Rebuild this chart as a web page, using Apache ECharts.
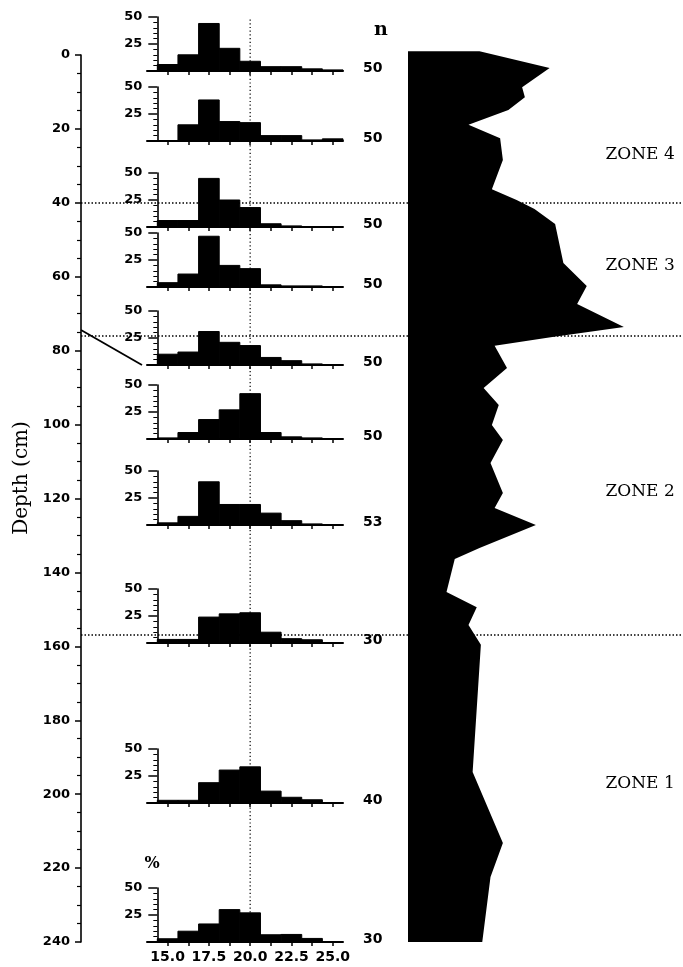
<!DOCTYPE html>
<html><head><meta charset="utf-8">
<script src="https://cdn.jsdelivr.net/npm/echarts@6/dist/echarts.min.js"></script>
<style>html,body{margin:0;padding:0;background:#fff}#c{width:683px;height:967px}</style>
</head><body><div id="c"></div>
<script>
// ---------- DATA ----------
const binCenters = [15.0, 16.25, 17.5, 18.75, 20.0, 21.25, 22.5, 23.75, 25.0];
const xTickLabels = ['15.0', '17.5', '20.0', '22.5', '25.0'];
const hist1  = [6, 15, 44, 21, 9, 4, 4, 2, 1];
const hist2  = [0, 15, 38, 18, 17, 5, 5, 1, 2];
const hist3  = [6, 6, 45, 25, 18, 3, 1, 0, 0];
const hist4  = [4, 12, 47, 20, 17, 2, 1, 1, 0];
const hist5  = [10, 12, 31, 21, 18, 7, 4, 1, 0];
const hist6  = [1, 6, 18, 27, 42, 6, 2, 1, 0];
const hist7  = [2, 8, 40, 19, 19, 11, 4, 1, 0];
const hist8  = [3.3, 3.3, 24, 27, 28, 10, 4, 3, 0];
const hist9  = [2.5, 2.5, 18.8, 30.5, 33.5, 11, 5.3, 3, 0];
const hist10 = [3, 10, 16.7, 30, 27, 6.7, 7, 3.3, 0];
const nValues = ['50', '50', '50', '50', '50', '50', '53', '30', '40', '30'];
const zoneNames = ['ZONE 4', 'ZONE 3', 'ZONE 2', 'ZONE 1'];
const zoneLabelDepths = [27, 57, 118, 197];
const zoneBoundaries = [40, 76, 157];
const pointerDepth = 74.4;
const profileDepth = [-1, -1, 3.5, 8.7, 11.4, 14.9, 18.9, 22.5, 28.4, 36.3, 39.2, 41.7, 45.7, 56.3, 62.5, 67.4, 73.6, 76.3, 78.7, 84.7, 90.1, 94.7, 100.1, 104.2, 110.4, 118.5, 122.6, 127.2, 133.4, 136.4, 145.3, 149.4, 154.2, 159.6, 194.0, 213.2, 222.4, 240];
const profileValue = [0, 26, 51.5, 41.5, 42.5, 36.5, 22, 33.5, 34.5, 30.5, 39.5, 46, 53.5, 56.5, 65, 61.5, 78.5, 52.5, 31.5, 36, 27.5, 33, 30.5, 34.5, 30, 34.5, 31.5, 46.5, 26, 17, 14, 25, 22, 26.5, 23.5, 34.5, 30, 27];

const hists = [hist1, hist2, hist3, hist4, hist5, hist6, hist7, hist8, hist9, hist10];

// ---------- LAYOUT ----------
const histBaseY = [71, 141, 227, 287, 365, 439, 525, 643, 803, 942];
const HIST_LEFT = 147, HIST_W = 196, HIST_H = 54;
const XMIN = 13.75, XMAX = 25.625, BIN = 1.25;
const firstEdge = binCenters[0] - BIN / 2;
const yOffset = -(firstEdge - XMIN) / (XMAX - XMIN) * HIST_W;
const MAIN_LEFT = 81, MAIN_TOP = 55, MAIN_H = 887;
const ZONE_LABEL_X = 84.4;
const SANS = 'DejaVu Sans', SERIF = 'DejaVu Serif';

const grids = [], xAxes = [], yAxes = [], series = [];

// grid 0: main depth axis
grids.push({left: MAIN_LEFT, top: MAIN_TOP, height: MAIN_H, right: 0});
xAxes.push({gridIndex: 0, type: 'value', min: 0, max: 1, show: false});
yAxes.push({gridIndex: 0, type: 'value', inverse: true, min: 0, max: 240, interval: 20,
  axisLine: {show: true, lineStyle: {color: '#000', width: 1.6}},
  axisTick: {show: true, length: 6, lineStyle: {color: '#000', width: 1.5}},
  minorTick: {show: true, splitNumber: 4, length: 4, lineStyle: {color: '#000', width: 1.2}},
  axisLabel: {color: '#000', fontFamily: SANS, fontWeight: 'bold', fontSize: 13, margin: 11},
  splitLine: {show: false}, minorSplitLine: {show: false}});
series.push({type: 'line', xAxisIndex: 0, yAxisIndex: 0, data: [], z: 6, silent: true,
  markLine: {silent: true, symbol: 'none', label: {show: false},
    lineStyle: {color: '#000', width: 1.5, type: [1.5, 2]},
    data: zoneBoundaries.map(d => ({yAxis: d}))}});

// grid 1: overlay for vertical dotted line at 20.0
grids.push({left: HIST_LEFT, width: HIST_W, top: 17, height: 925});
xAxes.push({gridIndex: 1, type: 'value', min: XMIN, max: XMAX, show: false});
yAxes.push({gridIndex: 1, type: 'value', min: 0, max: 1, show: false});
series.push({type: 'line', xAxisIndex: 1, yAxisIndex: 1, data: [[20, 0], [20, 1]], symbol: 'none', silent: true, z: 1,
  lineStyle: {color: '#000', width: 1.2, type: [1.2, 2.5]}});

// grid 2: silhouette profile
grids.push({left: 408, width: 275, top: MAIN_TOP, height: MAIN_H});
xAxes.push({gridIndex: 2, type: 'value', min: 0, max: 100, show: false});
yAxes.push({gridIndex: 2, type: 'value', inverse: true, min: 0, max: 240, show: false});
series.push({type: 'custom', xAxisIndex: 2, yAxisIndex: 2, silent: true, z: 4,
  data: profileDepth.map((d, i) => [profileValue[i], d]),
  renderItem: (params, api) => {
    if (params.dataIndex !== 0) return null;
    const pts = profileDepth.map((d, i) => api.coord([profileValue[i], d]));
    pts.push(api.coord([0, profileDepth[profileDepth.length - 1]]));
    return {type: 'polygon', shape: {points: pts}, style: {fill: '#000'}};
  }});

// histogram grids
hists.forEach((h, i) => {
  const gi = grids.length;
  const last = i === hists.length - 1;
  grids.push({left: HIST_LEFT, width: HIST_W, top: histBaseY[i] - HIST_H, height: HIST_H});
  xAxes.push({gridIndex: gi, type: 'value', min: XMIN, max: XMAX,
    axisLine: {show: true, onZero: false, lineStyle: {color: '#000', width: 2}},
    axisTick: {show: true, customValues: binCenters, length: 4, lineStyle: {color: '#000', width: 1.5}},
    axisLabel: {show: last, customValues: xTickLabels.map(Number), formatter: v => Number(v).toFixed(1),
      color: '#000', fontFamily: SANS, fontWeight: 'bold', fontSize: 14, margin: 8},
    splitLine: {show: false}});
  yAxes.push({gridIndex: gi, type: 'value', min: 0, max: 50, interval: 25, offset: yOffset,
    axisLine: {show: true, lineStyle: {color: '#000', width: 1.6}},
    axisTick: {show: true, length: 9, lineStyle: {color: '#000', width: 1.5}},
    minorTick: {show: true, splitNumber: 5, length: 4, lineStyle: {color: '#000', width: 1}},
    axisLabel: {showMinLabel: false, color: '#000', fontFamily: SANS, fontWeight: 'bold', fontSize: 13, margin: 15},
    splitLine: {show: false}, minorSplitLine: {show: false}});
  series.push({type: 'custom', xAxisIndex: gi, yAxisIndex: gi, silent: true, z: 3,
    data: binCenters.map((c, j) => [c, h[j]]),
    renderItem: (params, api) => {
      const c = api.value(0), v = api.value(1);
      const p0 = api.coord([c - BIN / 2, v]);
      const p1 = api.coord([c + BIN / 2, 0]);
      return {type: 'rect', shape: {x: p0[0], y: p0[1], width: p1[0] - p0[0], height: p1[1] - p0[1]},
        style: {fill: '#000', stroke: '#000', lineWidth: 1}};
    }});
});

const chart = echarts.init(document.getElementById('c'), null, {renderer: 'canvas'});
chart.setOption({animation: false, backgroundColor: '#fff',
  grid: grids, xAxis: xAxes, yAxis: yAxes, series: series});

// annotations
const g = [];
g.push({type: 'text', x: 22, y: 478, rotation: Math.PI / 2,
  style: {text: 'Depth (cm)', fill: '#000', font: '20px "DejaVu Serif"', align: 'center', verticalAlign: 'middle'}});
g.push({type: 'text', x: 381, y: 30,
  style: {text: 'n', fill: '#000', font: 'bold 19px "DejaVu Serif"', align: 'center', verticalAlign: 'middle'}});
nValues.forEach((n, i) => {
  const p = chart.convertToPixel({gridIndex: 3 + i}, [XMAX, 0]);
  g.push({type: 'text', x: p[0] + 20, y: p[1] - 3,
    style: {text: n, fill: '#000', font: 'bold 14px "DejaVu Sans"', align: 'left', verticalAlign: 'middle'}});
});
zoneNames.forEach((name, i) => {
  const p = chart.convertToPixel({gridIndex: 2}, [ZONE_LABEL_X, zoneLabelDepths[i]]);
  g.push({type: 'text', x: p[0], y: p[1], z: 10,
    style: {text: name, fill: '#000', font: '17px "DejaVu Serif"', align: 'center', verticalAlign: 'middle'}});
});
const pTop = chart.convertToPixel({gridIndex: 3 + hists.length - 1}, [XMIN, 50]);
g.push({type: 'text', x: pTop[0] + 5, y: pTop[1] - 24,
  style: {text: '%', fill: '#000', font: 'bold 16px "DejaVu Serif"', align: 'center', verticalAlign: 'middle'}});
const a = chart.convertToPixel({gridIndex: 0}, [0, pointerDepth]);
const b = chart.convertToPixel({gridIndex: 7}, [XMIN, 0]);
g.push({type: 'line', shape: {x1: a[0], y1: a[1], x2: b[0] - 5, y2: b[1]}, style: {stroke: '#000', lineWidth: 1.8}});
chart.setOption({graphic: g});
</script></body></html>
